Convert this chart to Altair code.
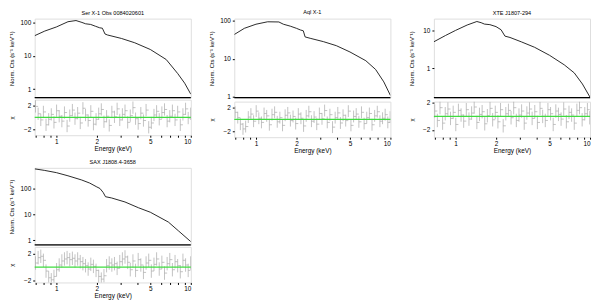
import altair as alt
import pandas as pd

TITLES = ["Ser X-1 Obs 0084020601", "Aql X-1", "XTE J1807-294", "SAX J1808.4-3658"]

# Unfolded spectra (model curve)
E1 = [0.69, 0.82, 1.0, 1.22, 1.4, 1.55, 1.65, 1.8, 1.95, 2.1, 2.2, 2.3, 2.4, 3.05, 3.83, 5.0, 6.56, 8.0, 9.0, 10.0]
V1 = [40, 55, 73, 105, 114, 100, 91, 87, 77, 69, 67, 45, 42, 33, 24.5, 15.4, 7.7, 2.9, 1.5, 0.7]

E2 = [0.69, 0.82, 1.0, 1.22, 1.48, 1.6, 1.8, 2.0, 2.14, 2.25, 2.32, 2.53, 3.17, 3.96, 5.0, 6.56, 7.76, 8.93, 10.0]
V2 = [44, 64, 82, 95, 94, 82, 73, 64, 58, 55, 38, 35, 28.6, 22.4, 15.3, 9.0, 5.3, 2.5, 1.1]

E3 = [0.69, 0.84, 1.0, 1.22, 1.44, 1.55, 1.64, 1.8, 2.0, 2.18, 2.33, 2.54, 3.09, 3.87, 5.0, 6.44, 7.63, 8.78, 10.0]
V3 = [5.0, 7.3, 10, 13.9, 17.2, 16, 14.7, 14.2, 12.6, 10.4, 7.05, 6.5, 4.96, 3.57, 2.19, 1.22, 0.75, 0.38, 0.17]

E4 = [0.69, 0.82, 1.0, 1.22, 1.54, 1.77, 2.0, 2.11, 2.23, 2.32, 2.57, 3.24, 4.07, 5.0, 6.81, 8.08, 10.0]
V4 = [575, 500, 411, 310, 214, 162, 115, 100, 70, 48, 43, 30, 18, 12, 5, 2.3, 0.87]

# Residual channels (keV) and chi values
GRID = [0.700, 0.732, 0.766, 0.801, 0.838, 0.877, 0.917, 0.960, 1.004, 1.050,
        1.099, 1.149, 1.202, 1.258, 1.316, 1.376, 1.440, 1.506, 1.576, 1.648,
        1.724, 1.804, 1.887, 1.974, 2.065, 2.160, 2.260, 2.364, 2.473, 2.587,
        2.706, 2.831, 2.962, 3.098, 3.241, 3.391, 3.547, 3.711, 3.882, 4.061,
        4.248, 4.444, 4.649, 4.863, 5.087, 5.322, 5.567, 5.824, 6.092, 6.373,
        6.667, 6.975, 7.296, 7.633, 7.985, 8.353, 8.738, 9.141, 9.563, 9.95]

R1 = [1.8, 0.6, -0.4, 0.9, -1.2, -0.3, 0.5, -0.8, 1.1, 0.2, -0.6, 0.8, -1.4, 0.3, 1.2, -0.2, 0.7, -0.9, 1.5, 0.4,
      -0.5, 1.0, -1.1, -0.3, 0.6, 1.3, -0.7, 0.2, -1.3, 0.9, 0.1, 1.4, -0.4, 0.5, 1.1, -0.8, 0.3, 1.6, -0.2, -1.0,
      0.7, -0.5, 1.2, -1.6, -0.9, 0.4, 1.0, -0.3, 0.8, 1.3, -0.6, 0.2, 1.1, -0.4, 0.9, -1.2, 0.5, 1.4, -0.1, 0.6]
R2 = [1.2, 0.3, -0.8, -1.6, -1.2, 0.4, 0.9, -0.3, 1.4, 0.2, -0.5, 1.0, 0.6, -0.9, 0.8, 1.2, -0.4, 0.3, -1.0, 0.7,
      1.1, -0.2, 0.5, -0.7, 0.9, 0.2, -1.1, 0.6, 1.3, -0.3, 0.4, -0.8, 1.0, 0.1, 1.5, -0.5, 0.8, -1.3, 0.3, 1.1,
      -0.6, 0.7, -0.2, 1.4, -1.0, 0.5, 0.9, -0.4, 1.2, -0.7, 0.3, 1.0, -0.9, 0.6, 1.3, -0.3, 0.2, 0.8, -0.5, 0.4]
R3 = [0.8, -0.6, 1.3, -1.0, 0.4, 1.1, -0.3, 0.6, -1.2, 0.9, 0.2, -0.7, 1.0, -0.4, 0.5, 1.4, -0.9, 0.3, 0.7, -1.1,
      0.1, 1.2, -0.5, 0.6, -0.8, 1.0, -1.4, 0.4, 0.9, -0.2, 1.3, -0.6, 0.2, 0.8, -1.0, 0.5, 1.1, -0.3, 0.7, -0.9,
      1.2, 0.0, -0.6, 1.0, 0.4, -1.2, 0.8, 0.3, -0.4, 1.1, -0.8, 0.6, 0.2, -1.0, 0.9, 1.3, -0.5, 0.4, 1.0, -0.2]
R4 = [0.6, 1.4, 1.6, 1.0, -0.6, -1.6, -1.9, -1.4, -0.4, 0.3, 0.9, 1.2, 1.4, 1.1, 1.3, 0.9, 1.2, 0.8, 0.5, 0.2,
      -0.3, 0.4, 0.1, -0.5, -1.4, -1.8, -1.3, 0.2, 0.6, 0.3, 0.5, -0.2, 0.8, 1.2, 1.5, 0.7, -0.4, 0.9, -0.5, 1.1,
      0.3, -0.8, 0.6, 1.0, -0.6, 0.4, 1.2, -0.3, 0.7, -0.9, 0.5, 1.1, -0.4, 0.8, 0.2, -0.7, 1.0, 0.3, -0.5, 0.6]

Y_DOMAINS = [[0.55, 130], [0.96, 115], [0.165, 20.5], [0.65, 630]]
Y_TICKS = [[1, 10, 100], [1, 10, 100], [1, 10], [1, 10, 100]]
R_DOMAINS = [[-2.9, 2.9], [-3.0, 3.0], [-3.1, 2.2], [-2.3, 3.0]]
R_TICKS = [-2, 0, 2]
X_DOMAIN = [0.69, 10]
X_TICKS = [0.7, 0.8, 0.9, 1, 2, 3, 4, 5, 6, 7, 8, 9, 10]

SPECS = [(E1, V1), (E2, V2), (E3, V3), (E4, V4)]
RESID = [R1, R2, R3, R4]

FONT = "Liberation Sans"
W, H2 = 158, 36
H1S = [80, 80, 80, 78]


def yaxis(values, title):
    return alt.Axis(values=values, title=title, format="d", grid=False, domain=False,
                    tickSize=2, tickColor="black", labelPadding=2, labelFontSize=6.5,
                    labelColor="black", labelFont=FONT, titleFont=FONT, titleFontSize=6,
                    titleFontWeight="normal", titleColor="black", titlePadding=6,
                    labelOverlap=False, minExtent=14, maxExtent=14)


def panel(i):
    E, V = SPECS[i]
    sp = pd.DataFrame({"E": E, "V": V})
    rs = pd.DataFrame({"E": GRID, "r": RESID[i]})
    xs = alt.Scale(type="log", domain=X_DOMAIN, nice=False)
    ys = alt.Scale(type="log", domain=Y_DOMAINS[i], nice=False)
    rsc = alt.Scale(domain=R_DOMAINS[i], nice=False, zero=False)

    line = alt.Chart(sp, title=alt.Title(TITLES[i], fontSize=5.6, font=FONT, fontWeight="normal",
                                         color="black", offset=2, anchor="middle", frame="group")).mark_line(
        color="#111111", strokeWidth=0.9, clip=True).encode(
        x=alt.X("E:Q", scale=xs, axis=None),
        y=alt.Y("V:Q", scale=ys, axis=yaxis(Y_TICKS[i], "Norm. Cts (s⁻¹ keV⁻¹)")),
    )
    sep = alt.Chart(pd.DataFrame({"V": [Y_DOMAINS[i][0]]})).mark_rule(
        color="black", strokeWidth=1.3).encode(y=alt.Y("V:Q", scale=ys))
    top = alt.layer(line, sep).properties(width=W, height=H1S[i])

    rbase = alt.Chart(rs).transform_calculate(lo="datum.r - 1", hi="datum.r + 1")
    xaxis = alt.Axis(values=X_TICKS, title="Energy (keV)", grid=False, domain=False,
                     labelExpr="(datum.value == 1 || datum.value == 2 || datum.value == 5 || datum.value == 10) ? datum.value : ''",
                     tickSize=2, tickColor="black", labelPadding=1, labelFontSize=6.5,
                     labelColor="black", labelFont=FONT, titleFont=FONT, titleFontSize=6.5,
                     titleFontWeight="normal", titleColor="black", titlePadding=1)
    bars = rbase.mark_rule(color="#a8a8a8", strokeWidth=0.7, clip=True).encode(
        x=alt.X("E:Q", scale=xs, axis=xaxis),
        y=alt.Y("lo:Q", scale=rsc, axis=yaxis(R_TICKS, "χ")),
        y2="hi:Q",
    )
    widths = rbase.transform_window(
        En="lead(E)", sort=[alt.SortField("E")]
    ).transform_filter("datum.En != null").transform_calculate(lo="datum.r").mark_rule(
        color="#a8a8a8", strokeWidth=0.7, clip=True).encode(
        x=alt.X("E:Q", scale=xs), x2="En:Q", y=alt.Y("lo:Q"))
    zero = alt.Chart(pd.DataFrame({"lo": [0]})).mark_rule(
        color="#3fdc3f", strokeWidth=1.2).encode(y="lo:Q")
    bottom = alt.layer(bars, widths, zero).properties(width=W, height=H2)
    return alt.vconcat(top, bottom, spacing=-1)


row1 = alt.hconcat(panel(0), panel(1), panel(2), spacing=15)
chart = alt.vconcat(row1, panel(3), spacing=4).properties(
    padding=0
).configure_view(stroke="black", strokeWidth=1.0).configure(background="white")

chart.save("out.html", embed_options={"renderer": "svg", "actions": False})
